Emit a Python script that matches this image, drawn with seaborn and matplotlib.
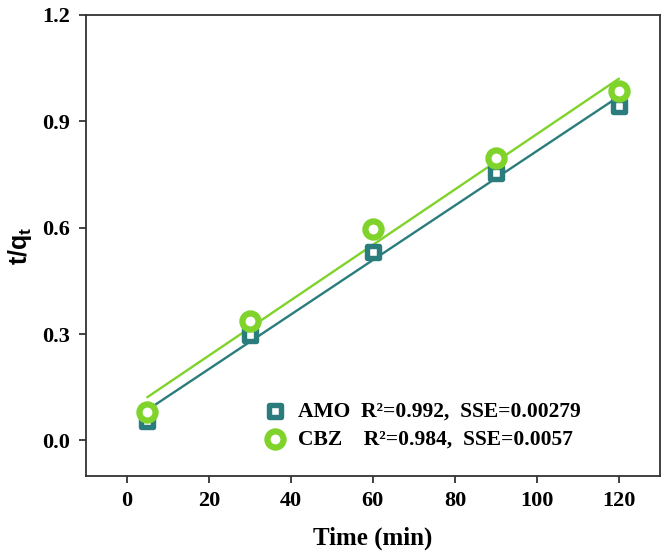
import matplotlib
matplotlib.use("Agg")
import matplotlib.pyplot as plt
import seaborn as sns
import numpy as np
import pandas as pd

time_min = [5, 30, 60, 90, 120]
amo_vals = [0.056, 0.296, 0.531, 0.755, 0.944]
cbz_vals = [0.079, 0.338, 0.597, 0.797, 0.986]
labels = ["AMO  R²=0.992,  SSE=0.00279",
          "CBZ    R²=0.984,  SSE=0.0057"]
x_ticks = [0, 20, 40, 60, 80, 100, 120]
y_ticks = [0.0, 0.3, 0.6, 0.9, 1.2]

teal = "#2a7d7c"
green = "#7fd32a"

sns.set_style("ticks")
plt.rcParams['font.family'] = ['Liberation Serif', 'DejaVu Serif']
plt.rcParams['mathtext.fontset'] = 'custom'
plt.rcParams['mathtext.rm'] = 'Liberation Sans:bold'
plt.rcParams['mathtext.bf'] = 'Liberation Sans:bold'
plt.rcParams['mathtext.it'] = 'Liberation Sans:bold'
plt.rcParams['text.color'] = 'black'
plt.rcParams['axes.labelcolor'] = 'black'
plt.rcParams['xtick.color'] = '#222222'
plt.rcParams['ytick.color'] = '#222222'
plt.rcParams['xtick.labelcolor'] = 'black'
plt.rcParams['ytick.labelcolor'] = 'black'

df_amo = pd.DataFrame({"t": time_min, "y": amo_vals})
df_cbz = pd.DataFrame({"t": time_min, "y": cbz_vals})

fig = plt.figure(figsize=(6.7, 5.54), dpi=100)
ax = fig.add_axes([0.128, 0.141, 0.857, 0.832])

sns.regplot(data=df_amo, x="t", y="y", ci=None, scatter=False, ax=ax,
            line_kws=dict(color=teal, lw=1.7, zorder=2))
sns.regplot(data=df_cbz, x="t", y="y", ci=None, scatter=False, ax=ax,
            line_kws=dict(color=green, lw=1.7, zorder=2))

sns.scatterplot(data=df_amo, x="t", y="y", marker="s", s=85, color="white",
                edgecolor=teal, linewidth=3.9, ax=ax, zorder=3, label=labels[0])
sns.scatterplot(data=df_cbz, x="t", y="y", marker="o", s=135, color="white",
                edgecolor=green, linewidth=4.5, ax=ax, zorder=4, label=labels[1])

ax.set_xlim(-10, 130)
ax.set_ylim(-0.1, 1.2)
ax.set_xticks(x_ticks)
ax.set_yticks(y_ticks)
ax.set_xticklabels([str(v) for v in x_ticks], fontsize=16, fontweight='bold')
ax.set_yticklabels([f"{v:.1f}" for v in y_ticks], fontsize=16, fontweight='bold')
ax.tick_params(axis='both', direction='out', length=5, width=1.2, pad=6)
for sp in ax.spines.values():
    sp.set_visible(True)
    sp.set_linewidth(1.3)
    sp.set_color("#333333")

ax.set_xlabel("Time (min)", fontsize=18, fontweight='bold', labelpad=11)
ax.set_ylabel("t/q$_\\mathregular{t}$", fontsize=18, fontweight='bold',
              family=['Liberation Sans'], labelpad=6)

leg = ax.legend(loc='lower left', bbox_to_anchor=(0.28, 0.025), frameon=False,
                prop={'family': 'Liberation Serif', 'weight': 'bold', 'size': 15.5},
                handletextpad=0.5, labelspacing=0.35, borderaxespad=0.3,
                handlelength=1.2)

fig.savefig("out.png", dpi=100)
